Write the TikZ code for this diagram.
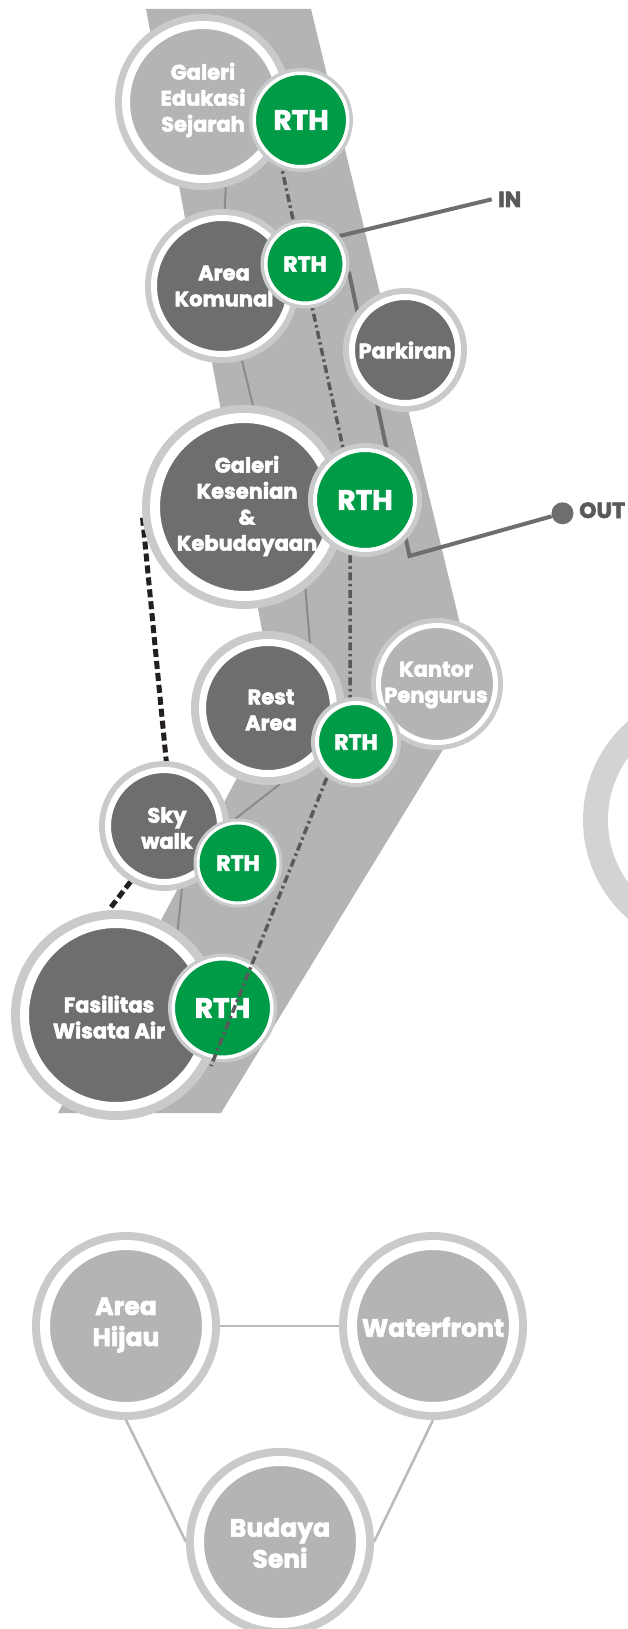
\documentclass[tikz,border=0pt]{standalone}
\usepackage{fontspec}
\newfontfamily\lblfont{Poppins}[BoldFeatures={FakeBold=2.5}]
\usetikzlibrary{calc}

\pgfdeclarelayer{bg}
\pgfdeclarelayer{under}
\pgfdeclarelayer{low}
\pgfdeclarelayer{mid}
\pgfsetlayers{bg,under,low,mid,main}

\definecolor{roadgrey}{RGB}{179,180,182}
\definecolor{ringgrey}{RGB}{201,202,203}
\definecolor{arcgrey}{RGB}{210,211,212}
\definecolor{darkfill}{RGB}{109,110,112}
\definecolor{lightfill}{RGB}{179,180,182}
\definecolor{rthgreen}{RGB}{0,155,70}
\definecolor{linkgrey}{RGB}{138,139,141}
\definecolor{routegrey}{RGB}{109,110,112}
\definecolor{trailgrey}{RGB}{88,89,91}
\definecolor{nearblack}{RGB}{35,31,32}
\definecolor{softline}{RGB}{185,186,188}

\tikzset{
  ringcol/.store in=\ringcol, ringcol=ringgrey,
  % circle with outer grey ring and inner white ring: {outer radius}{grey}{white}{fill}
  spot/.style n args={4}{circle, inner sep=0pt, outer sep={#2+#3/2},
    minimum size={2*(#1-#2-#3/2)}, fill=#4, draw=white, line width={#3},
    preaction={draw=\ringcol, line width={#3+2*#2}}},
  lbl/.style={text=white, align=center, inner sep=0pt,
    font=\lblfont\bfseries\fontsize{21}{26}\selectfont},
  lblbig/.style={lbl, font=\lblfont\bfseries\fontsize{25}{31}\selectfont},
  rthbig/.style={lbl, font=\lblfont\bfseries\fontsize{28}{30}\selectfont},
  rthsmall/.style={lbl, font=\lblfont\bfseries\fontsize{22}{24}\selectfont},
  routelbl/.style={text=trailgrey, inner sep=0pt,
    font=\lblfont\bfseries\fontsize{22}{24}\selectfont},
  link/.style={draw=linkgrey, line width=2pt},
  route/.style={draw=routegrey, line width=4pt},
  trail/.style={draw=trailgrey, line width=3.5pt,
    dash pattern=on 8pt off 3.5pt on 2.5pt off 3.5pt},
  blackdash/.style={draw=nearblack, line width=5pt, dash pattern=on 8pt off 4pt},
  softlink/.style={draw=softline, line width=2.5pt},
}

\begin{document}
\begin{tikzpicture}[x=1pt,y=-1pt]
\useasboundingbox (0,0) rectangle (627,1629);

\begin{pgfonlayer}{bg}
  \fill[white] (0,0) rectangle (627,1629);
  % the corridor
  \fill[roadgrey] (146,9) -- (311,9) -- (477,694) -- (221,1113)
    -- (58,1113) -- (276,705) -- cycle;
\end{pgfonlayer}

% waterfront end of the corridor
\begin{pgfonlayer}{low}
  \node[spot={105}{9}{9}{darkfill}] (fa) at (116,1015) {};
  \node[lbl] (fa-l) at (109,1017) {Fasilitas\\Wisata Air};
  \node[spot={54.5}{3.5}{3.5}{rthgreen}, rthbig] (rth6) at (222.5,1008) {RTH};
\end{pgfonlayer}

% upper part of the corridor
\node[spot={88}{7}{8}{lightfill}] (ge) at (203,102) {};
\node[lbl] (ge-l) at (203,100) {Galeri\\Edukasi\\Sejarah};
\node[spot={52}{3.5}{3.5}{rthgreen}, rthbig] (rth1) at (301,120) {RTH};

\node[spot={77}{6}{6}{darkfill}] (ak) at (222,286) {};
\node[lbl] (ak-l) at (224,286) {Area\\Komunal};
\node[spot={44.5}{3.5}{3.5}{rthgreen}, rthsmall] (rth2) at (305,264) {RTH};

\node[spot={62}{6}{6}{darkfill}] (pk) at (405,350) {};
\node[lbl] (pk-l) at (405,350) {Parkiran};

\node[spot={102}{8}{10}{darkfill}] (gk) at (244,507) {};
\node[lbl] (gk-l) at (247,506) {Galeri\\Kesenian\\\&\\Kebudayaan};
\node[spot={57}{5}{4}{rthgreen}, rthbig] (rth3) at (365,500) {RTH};

\node[spot={66}{5}{5}{lightfill}] (kp) at (437,684) {};
\node[lbl] (kp-l) at (436,685) {Kantor\\Pengurus};

\node[spot={77}{8}{7}{darkfill}] (ra) at (268,708) {};
\node[lbl] (ra-l) at (271,710) {Rest\\Area};
\node[spot={45}{4}{4}{rthgreen}, rthsmall] (rth4) at (356,742) {RTH};

\node[spot={65}{6}{6}{darkfill}] (sw) at (164,826) {};
\node[lbl] (sw-l) at (167,828) {Sky\\walk};
\node[spot={44.5}{3}{3}{rthgreen}, rthsmall] (rth5) at (238,863) {RTH};

% large ring at the right edge
\node[spot={131}{25}{20}{lightfill}, ringcol=arcgrey] (far) at (714,820) {};

% entrance and exit
\node[circle, fill=routegrey, minimum size=22, inner sep=0pt] (outdot) at (562.5,513.3) {};
\node[routelbl, anchor=base west] (outlbl) at (579,518) {OUT};
\node[routelbl, anchor=base west] (inlbl) at (498,207) {IN};
\coordinate (inend) at (491.7,199.3);
\coordinate (outbend) at (409.5,556);

% concept triangle
\node[spot={94}{8}{10}{lightfill}] (ah) at (126,1326) {};
\node[lblbig] (ah-l) at (126,1325) {Area\\Hijau};
\node[spot={94}{8}{10}{lightfill}] (wf) at (433,1326) {};
\node[lblbig] (wf-l) at (433,1327) {Waterfront};
\node[spot={94}{8}{10}{lightfill}] (bs) at (280,1542) {};
\node[lblbig] (bs-l) at (280,1543) {Budaya\\Seni};

% green walking trail
\coordinate (dd1) at ($(rth1)+(-21,40)$);
\coordinate (dd2) at ($(rth3)+(-15,-20)$);
\coordinate (dd3) at ($(rth4)+(-6,-22)$);
\coordinate (dd4) at ($(rth6)+(-11.5,58)$);
\begin{pgfonlayer}{mid}
  \draw[trail] (dd1) -- (dd2) -- (dd3) -- (dd4);
\end{pgfonlayer}

\begin{pgfonlayer}{under}
  % links between the facilities
  \draw[link] (ge.-75) -- (ak.88);
  \draw[link] (ak.-75) -- (gk.85);
  \draw[link] (gk.-53) -- (ra.57);
  \draw[link] (ra.-81) -- (sw.2);
  \draw[link] (sw.-74) -- (fa.54);
  % skywalk
  \draw[blackdash] (gk.186) -- (sw.88);
  \draw[blackdash] (sw.239) -- (fa.94);
  % vehicle route
  \draw[route] (rth2.39) -- (inend);
  \draw[route, line join=miter] (rth2.-10) -- (outbend) -- (outdot);
  % concept links
  \draw[softlink] (ah.east) -- (wf.west);
  \draw[softlink] (ah.south) -- (bs.west);
  \draw[softlink] (wf.south) -- (bs.east);
\end{pgfonlayer}
\end{tikzpicture}
\end{document}
